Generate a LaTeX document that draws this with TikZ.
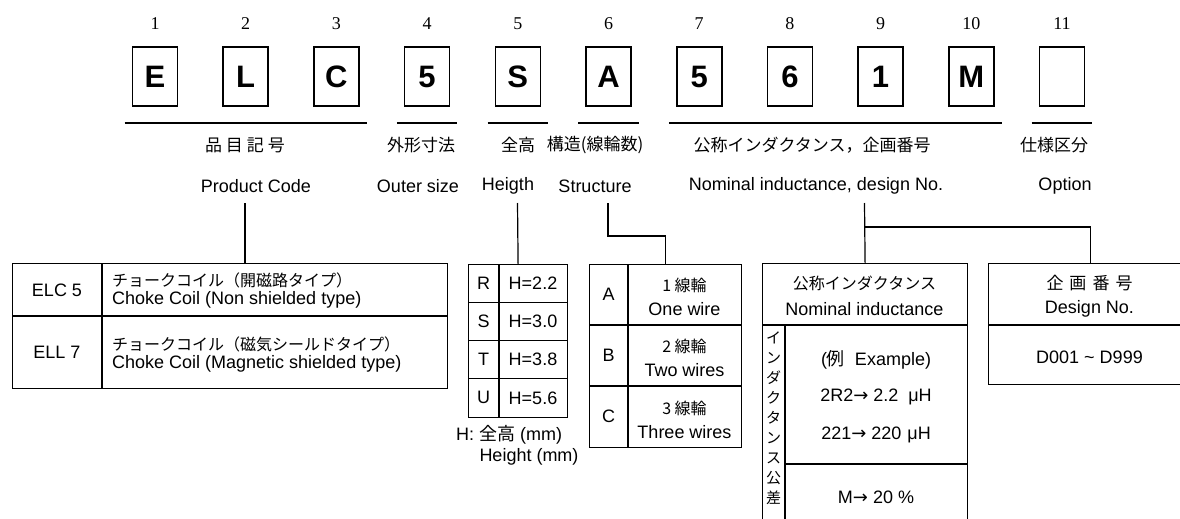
\documentclass[tikz,border=0pt]{standalone}
\usepackage{fontspec}
\setmainfont{Liberation Sans}
\newfontfamily\jp{Noto Sans CJK JP}
\newfontfamily\numfont{Liberation Serif}
\newfontfamily\arrowfont{DejaVu Sans}
\newcommand{\toarrow}{{\arrowfont\fontsize{18}{20}\selectfont →}}
\usetikzlibrary{positioning,calc}

\tikzset{
    codebox/.style={draw, line width=1.6pt, minimum width=45pt, minimum height=59pt, inner sep=0pt,
        font=\fontsize{31}{33}\selectfont\bfseries},
    posnum/.style={font=\numfont\fontsize{18}{20}\selectfont},
    jplabel/.style={font=\jp\fontsize{17}{19}\selectfont, inner sep=0pt},
    enlabel/.style={font=\fontsize{18}{20}\selectfont, inner sep=0pt},
    cell/.style={font=\fontsize{18}{20}\selectfont, inner sep=0pt},
    jpcell/.style={font=\jp\fontsize{16}{18}\selectfont, inner sep=0pt},
    frame/.style={draw, line width=1.2pt, anchor=north west, inner sep=0pt},
    rule/.style={line width=1.2pt},
    wire/.style={line width=1.2pt}
}

\begin{document}
\begin{tikzpicture}[x=1pt,y=-1pt]
    \useasboundingbox (0,0) rectangle (1180,519);
    \clip (0,0) rectangle (1180,519);

    % code boxes
    \foreach \ch [count=\i] in {E,L,C,5,S,A,5,6,1,M,{}} {
        \node[codebox] (b\i) at ({155+90.7*(\i-1)},76.5) {\ch};
        \node[posnum] (n\i) at ({155+90.7*(\i-1)},24) {\i};
    }
    \foreach \a/\b in {1/3,4/4,5/5,6/6,7/10,11/11}
        \draw[line width=1.6pt] ($(b\a.south west)+(-7,16)$) -- ($(b\b.south east)+(7,16)$);

    % headings
    \node[jplabel] (pcj) at (245,145) {品\hspace{4pt}目\hspace{4pt}記\hspace{4pt}号};
    \node[enlabel] (pce) at (256,186) {Product Code};
    \node[jplabel] (osj) at (421,145) {外形寸法};
    \node[enlabel] (ose) at (418,186) {Outer size};
    \node[jplabel] (htj) at (518,145) {全高};
    \node[enlabel] (hte) at (508,186) {Heigth};
    \node[jplabel] (stj) at (595,145) {構造(線輪数)};
    \node[enlabel] (ste) at (595,186) {Structure};
    \node[jplabel] (nij) at (812,145) {公称インダクタンス，企画番号};
    \node[enlabel] (nie) at (816,186) {Nominal inductance, design No.};
    \node[jplabel] (opj) at (1054,145) {仕様区分};
    \node[enlabel] (ope) at (1065,186) {Option};

    % product code table
    \node[frame, minimum width=435pt, minimum height=125pt] (pc) at (12,263) {};
    \draw[rule] (102,263) -- (102,388);
    \draw[rule] (12,316) -- (447,316);
    \node[cell] (elc) at (57,290) {ELC 5};
    \node[cell] (ell) at (57,352) {ELL 7};
    \node[jpcell, anchor=west] (elcj) at (112,280) {チョークコイル（開磁路タイプ）};
    \node[cell, anchor=west] (elce) at (112,300) {Choke Coil (Non shielded type)};
    \node[jpcell, anchor=west] (ellj) at (112,344) {チョークコイル（磁気シールドタイプ）};
    \node[cell, anchor=west] (elle) at (112,364) {Choke Coil (Magnetic shielded type)};

    % height table
    \node[frame, minimum width=99pt, minimum height=153pt] (ht) at (468,264) {};
    \draw[rule] (499,264) -- (499,417);
    \foreach \y in {302.25,340.5,378.75}
        \draw[rule] (468,\y) -- (567,\y);
    \foreach \k/\v [count=\r] in {R/2.2,S/3.0,T/3.8,U/5.6} {
        \node[cell] (hk\r) at (483.5,{264+38.25*(\r-0.5)}) {\k};
        \node[cell] (hv\r) at (533,{264+38.25*(\r-0.5)}) {H=\v};
    }
    \node[cell] (hnote) at (509,435) {H: {\jp 全高} (mm)};
    \node[cell] (hnote2) at (529,457) {Height (mm)};

    % structure table
    \node[frame, minimum width=152pt, minimum height=183pt] (st) at (589,264) {};
    \draw[rule] (628,264) -- (628,447);
    \draw[rule] (589,325) -- (741,325);
    \draw[rule] (589,386) -- (741,386);
    \node[cell] (sa) at (608.5,294.5) {A};
    \node[cell] (sb) at (608.5,355.5) {B};
    \node[cell] (sc) at (608.5,416.5) {C};
    \node[jpcell] (saj) at (684.5,285) {1 線輪};
    \node[cell] (sae) at (684.5,309) {One wire};
    \node[jpcell] (sbj) at (684.5,346) {2 線輪};
    \node[cell] (sbe) at (684.5,370) {Two wires};
    \node[jpcell] (scj) at (684.5,408) {3 線輪};
    \node[cell] (sce) at (684.5,432) {Three wires};

    % nominal inductance table
    \node[frame, minimum width=205pt, minimum height=290pt] (ni) at (762,263) {};
    \draw[rule] (762,325) -- (967,325);
    \draw[rule] (785,325) -- (785,553);
    \draw[rule] (785,464) -- (967,464);
    \node[jpcell] (nihj) at (864.5,283) {公称インダクタンス};
    \node[cell] (nihe) at (864.5,309) {Nominal inductance};
    \node[cell] (ex0) at (876,360) {({\jp 例}\hspace{10pt}Example)};
    \node[cell] (ex1) at (876,397) {2R2\toarrow\ 2.2\hspace{10pt}μH};
    \node[cell] (ex2) at (876,435) {221\toarrow\ 220\hspace{6pt}μH};
    \node[cell] (tol) at (876,497) {M\toarrow\ 20 \%};
    \node[jpcell, font=\jp\fontsize{15}{20}\selectfont, align=center] (tolj) at (773.5,418)
        {イ\\ン\\ダ\\ク\\タ\\ン\\ス\\公\\差};

    % design number table
    \node[frame, minimum width=203pt, minimum height=121pt] (dn) at (988,263) {};
    \draw[rule] (988,325) -- (1191,325);
    \node[jpcell, font=\jp\fontsize{17}{19}\selectfont] (dnj) at (1089.5,283) {企\hspace{6pt}画\hspace{6pt}番\hspace{6pt}号};
    \node[cell] (dne) at (1089.5,309) {Design No.};
    \node[cell] (dnv) at (1089.5,357) {D001 \textasciitilde{} D999};

    % connectors
    \coordinate (pcTop) at (245,203);
    \coordinate (htTop) at (517.5,203);
    \coordinate (stTop) at (608,203);
    \coordinate (niTop) at (864.5,203);
    \draw[wire] (pcTop) -- (pcTop |- pc.north);
    \draw[wire] (htTop) -- (ht.north);
    \draw[wire] (stTop) |- ($(st.north)+(0,-28)$) -- (st.north);
    \draw[wire] (niTop) -- (ni.north);
    \draw[wire] ($(niTop)+(0,24)$) -| (dn.north);
\end{tikzpicture}
\end{document}
